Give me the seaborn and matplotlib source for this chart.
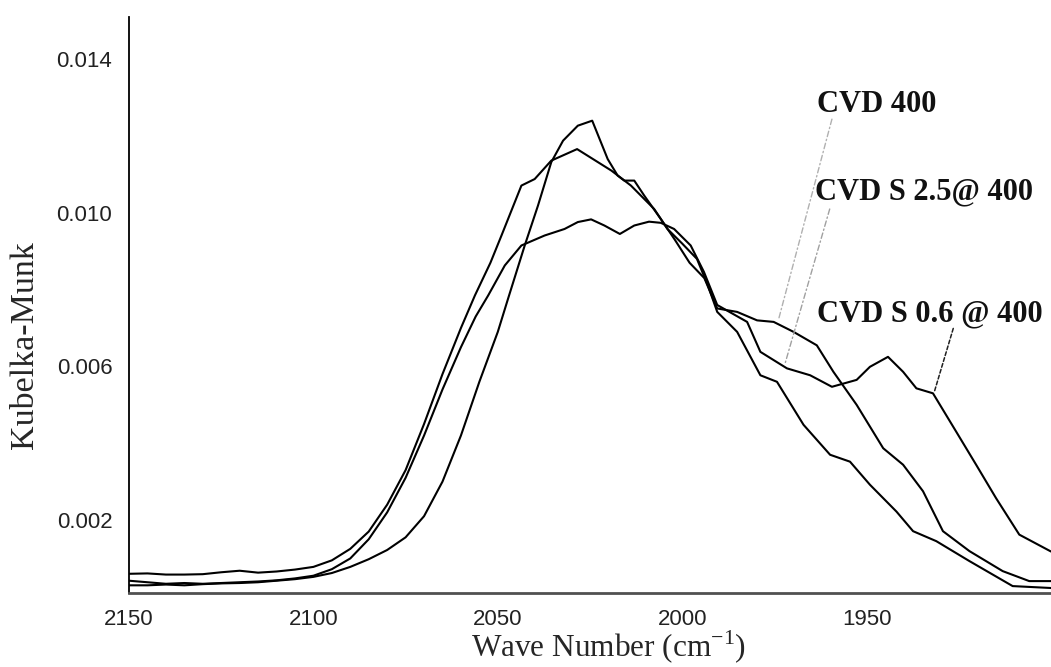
import matplotlib
matplotlib.use("Agg")
import pandas as pd
import matplotlib.pyplot as plt
import seaborn as sns
from matplotlib.ticker import MultipleLocator, FixedLocator, FormatStrFormatter

# CVD 400 (tallest, sharpest peak)
wn_cvd400 = [2150, 2145, 2140, 2135, 2130, 2125, 2120, 2115, 2110, 2105, 2100, 2095,
             2090, 2085, 2080, 2075, 2070, 2065, 2060, 2055, 2050, 2047.2, 2042.7,
             2039.1, 2035.5, 2032.3, 2028.3, 2024.4, 2020.2, 2017.5, 2015.7, 2013.0,
             2010.3, 2005.8, 2002, 1998, 1994, 1990.5, 1985.1, 1979.7, 1975.2, 1969.8,
             1963.5, 1959.0, 1952.7, 1945.5, 1940.1, 1934.7, 1929.3, 1922.1, 1913.1,
             1905.9, 1900]
km_cvd400 = [0.00030, 0.00030, 0.00032, 0.00030, 0.00033, 0.00035, 0.00036, 0.00038,
             0.00042, 0.00046, 0.00052, 0.00062, 0.00078, 0.00098, 0.00122, 0.00155,
             0.0021, 0.0030, 0.0042, 0.0056, 0.0069, 0.00777, 0.00915, 0.01019, 0.01132,
             0.01188, 0.01227, 0.01240, 0.01140, 0.01097, 0.01084, 0.01084, 0.01045,
             0.00984, 0.0093, 0.0087, 0.0083, 0.00751, 0.00742, 0.00720, 0.00716,
             0.00690, 0.00655, 0.00586, 0.00500, 0.00387, 0.00344, 0.00275, 0.00171,
             0.00119, 0.00067, 0.00041, 0.00041]

# CVD S 2.5 @ 400
wn_s25 = [2150, 2145, 2140, 2135, 2130, 2125, 2120, 2115, 2110, 2105, 2100, 2095, 2090,
          2085, 2080, 2075, 2070, 2065, 2060, 2056.2, 2052, 2049.0, 2043.6, 2040.0,
          2035.5, 2028.5, 2019.2, 2013.9, 2007.6, 2004.0, 2000, 1996, 1993, 1990.5,
          1985.1, 1978.8, 1974.3, 1967.1, 1959.9, 1954.5, 1949.1, 1941.9, 1937.4,
          1931.1, 1922.1, 1910.4, 1900]
km_s25 = [0.00060, 0.00061, 0.00058, 0.00058, 0.00059, 0.00064, 0.00068, 0.00063,
          0.00066, 0.00071, 0.00078, 0.00095, 0.00125, 0.0017, 0.0024, 0.0033, 0.0045,
          0.0058, 0.0070, 0.00785, 0.0087, 0.00941, 0.01071, 0.01088, 0.01136, 0.01166,
          0.01110, 0.01071, 0.01010, 0.00958, 0.0092, 0.0088, 0.0081, 0.00742, 0.00690,
          0.00577, 0.00560, 0.00448, 0.00370, 0.00352, 0.00292, 0.00222, 0.00171,
          0.00145, 0.00093, 0.00028, 0.00023]

# CVD S 0.6 @ 400
wn_s06 = [2150, 2145, 2140, 2135, 2130, 2125, 2120, 2115, 2110, 2105, 2100, 2095, 2090,
          2085, 2080, 2075, 2070, 2065, 2060, 2056, 2052.6, 2048.1, 2043.6, 2037.3,
          2031.9, 2028.3, 2024.7, 2021.1, 2016.9, 2013.0, 2009.0, 2005.8, 2002.2,
          1997.7, 1994.1, 1990.5, 1982.4, 1978.8, 1971.6, 1965.3, 1959.4, 1952.7,
          1949.1, 1944.2, 1940.1, 1936.5, 1932.0, 1925.7, 1920.3, 1914.9, 1908.6, 1900]
km_s06 = [0.00042, 0.00038, 0.00034, 0.00036, 0.00034, 0.00036, 0.00038, 0.00040,
          0.00043, 0.00048, 0.00055, 0.00072, 0.0010, 0.0015, 0.0022, 0.0031, 0.0042,
          0.0054, 0.0065, 0.0073, 0.00785, 0.00863, 0.00915, 0.00941, 0.00958, 0.00976,
          0.00983, 0.00967, 0.00945, 0.00967, 0.00977, 0.00974, 0.00958, 0.00915,
          0.00846, 0.0076, 0.00716, 0.00638, 0.00595, 0.00577, 0.00547, 0.00565,
          0.00599, 0.00625, 0.00586, 0.00543, 0.00530, 0.00430, 0.00344, 0.00257,
          0.00162, 0.00118]

x_ticks = [2150, 2100, 2050, 2000, 1950]
y_ticks = [0.002, 0.006, 0.010, 0.014]


def main():
    frames = []
    for name, wn, km in [("CVD 400", wn_cvd400, km_cvd400),
                         ("CVD S 2.5@ 400", wn_s25, km_s25),
                         ("CVD S 0.6 @ 400", wn_s06, km_s06)]:
        frames.append(pd.DataFrame({"wn": wn, "km": km, "sample": name}))
    df = pd.concat(frames, ignore_index=True)

    sns.set_style("white")
    plt.rcParams["font.family"] = ["Liberation Sans", "DejaVu Sans"]

    fig = plt.figure(figsize=(10.51, 6.67), dpi=100)
    ax = fig.add_axes([129 / 1051, 1 - 593 / 667, 922 / 1051, 576 / 667])

    sns.lineplot(data=df, x="wn", y="km", units="sample", estimator=None,
                 color="black", linewidth=1.5, sort=False, legend=False, ax=ax)

    ax.set_xlim(2150, 1900)
    ax.set_ylim(0.0001, 0.0151)

    # axes frame: only left and bottom
    for s in ["top", "right"]:
        ax.spines[s].set_visible(False)
    ax.spines["left"].set_color("black")
    ax.spines["left"].set_linewidth(1.3)
    ax.spines["bottom"].set_color("#505050")
    ax.spines["bottom"].set_linewidth(2.0)

    ax.xaxis.set_major_locator(FixedLocator(x_ticks))
    ax.xaxis.set_minor_locator(MultipleLocator(10))
    ax.yaxis.set_major_locator(FixedLocator(y_ticks))
    ax.yaxis.set_minor_locator(MultipleLocator(0.0002))
    ax.yaxis.set_major_formatter(FormatStrFormatter("%.3f"))
    ax.xaxis.set_major_formatter(FormatStrFormatter("%d"))

    ax.tick_params(axis="both", which="major", direction="inout", length=9,
                   width=1.2, color="black", labelsize=16)
    ax.tick_params(axis="both", which="minor", direction="inout", length=5,
                   width=1.0, color="black")
    ax.tick_params(axis="y", which="major", pad=7.5)
    ax.tick_params(axis="x", which="major", pad=7)
    for lab in ax.get_xticklabels() + ax.get_yticklabels():
        lab.set_color("#222222")

    ax.set_xlabel("Wave Number (cm$^{\\mathregular{-1}}$)", family="Liberation Serif",
                  fontsize=22.5)
    ax.set_ylabel("Kubelka-Munk", family="Liberation Serif", fontsize=24.5)
    ax.xaxis.set_label_coords(0.52, -0.062)
    ax.yaxis.set_label_coords(-0.0965, 0.43)

    # sample labels with leader lines
    lab_kw = dict(family="Liberation Serif", fontweight="bold", fontsize=22,
                  va="baseline", ha="left", color="#111111")
    ax.text(1963.5, 0.01262, "CVD 400", **lab_kw)
    ax.text(1964.0, 0.01035, "CVD S 2.5@ 400", **lab_kw)
    ax.text(1963.5, 0.00718, "CVD S 0.6 @ 400", **lab_kw)

    ax.annotate("", xy=(1973.8, 0.00725), xytext=(1959.4, 0.01244),
                arrowprops=dict(arrowstyle="-", color="#b0b0b0", lw=1.0,
                                linestyle=(0, (4, 2, 1, 2)), shrinkA=0, shrinkB=0))
    ax.annotate("", xy=(1972.1, 0.00608), xytext=(1960.0, 0.01010),
                arrowprops=dict(arrowstyle="-", color="#a0a0a0", lw=1.0,
                                linestyle=(0, (4, 2, 1, 2)), shrinkA=0, shrinkB=0))
    ax.annotate("", xy=(1931.6, 0.00535), xytext=(1926.5, 0.00699),
                arrowprops=dict(arrowstyle="-", color="#202020", lw=1.1,
                                linestyle=(0, (2.5, 1.5)), shrinkA=0, shrinkB=0))

    fig.savefig("out.png", dpi=100)


if __name__ == "__main__":
    main()
